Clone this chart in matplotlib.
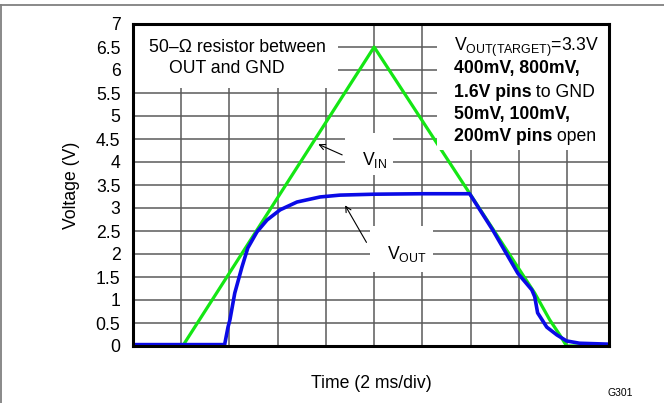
import matplotlib
matplotlib.use("Agg")
import matplotlib.pyplot as plt
from matplotlib.patches import Rectangle
from matplotlib.lines import Line2D
from matplotlib.transforms import offset_copy

plt.rcParams['font.family'] = ['Liberation Sans', 'DejaVu Sans']
plt.rcParams['mathtext.fontset'] = 'custom'
plt.rcParams['mathtext.rm'] = 'Liberation Sans'
plt.rcParams['mathtext.bf'] = 'Liberation Sans:bold'
plt.rcParams['mathtext.it'] = 'Liberation Sans:italic'

# ---- data (time in divisions of 2 ms, voltage in V) ----
vin_t = [0.0, 1.03, 5.0, 8.33, 8.64, 8.85, 8.99, 9.87]
vin_v = [0.0, 0.0, 6.5, 1.15, 0.57, 0.24, 0.0, 0.0]

vout_t = [0.0, 0.5, 1.0, 1.5, 1.90, 1.97, 2.01, 2.11, 2.26, 2.38, 2.57, 2.78, 3.05,
          3.40, 3.88, 4.29, 5.0, 6.0, 6.98, 7.46, 7.98, 8.27, 8.33, 8.39, 8.58,
          8.79, 8.99, 9.26, 9.87]
vout_v = [0.03, 0.03, 0.03, 0.03, 0.03, 0.41, 0.57, 1.15, 1.72, 2.13, 2.48, 2.74, 2.96,
          3.13, 3.24, 3.28, 3.30, 3.31, 3.31, 2.52, 1.58, 1.22, 1.07, 0.72, 0.41,
          0.24, 0.11, 0.06, 0.04]

yticks = [0, 0.5, 1, 1.5, 2, 2.5, 3, 3.5, 4, 4.5, 5, 5.5, 6, 6.5, 7]
ytick_labels = ['0', '0.5', '1', '1.5', '2', '2.5', '3', '3.5', '4', '4.5',
                '5', '5.5', '6', '6.5', '7']
xgrid = [1, 2, 3, 4, 5, 6, 7, 8, 9]

FS = 12.7
fig = plt.figure(figsize=(6.64, 4.03), dpi=100)
ax = fig.add_axes([133/664, 1-346/403, (609-133)/664, (346-24)/403])
ax.set_xlim(0, 9.87)
ax.set_ylim(0, 7)

ax.set_yticks(yticks)
ax.set_yticklabels(ytick_labels, fontsize=FS)
ax.set_xticks(xgrid)
ax.set_xticklabels([])
ax.tick_params(length=0, pad=9)
ax.grid(True, color='#5a5a5a', linewidth=1.1, zorder=0.5)
ax.set_axisbelow(True)
for s in ax.spines.values():
    s.set_linewidth(2.2)
    s.set_color('black')
    s.set_zorder(6)

ax.set_ylabel('Voltage (V)', fontsize=FS, labelpad=11)
fig.text(371/664, 1-383/403, 'Time (2 ms/div)', fontsize=FS, ha='center', va='center')
fig.text(620/664, 1-393/403, 'G301', fontsize=7.5, ha='center', va='center')

# curves
ax.plot(vin_t, vin_v, color='#14e614', linewidth=2.3, zorder=3, solid_joinstyle='round')
ax.plot(vout_t, vout_v, color='#0a0ae6', linewidth=2.6, zorder=3.5, solid_joinstyle='round')

# white label backgrounds
ax.add_patch(Rectangle((0, 5.6), 4.25, 1.4, facecolor='white', edgecolor='none', zorder=2))
ax.add_patch(Rectangle((6.30, 4.26), 3.57, 2.74, facecolor='white', edgecolor='none', zorder=4))
ax.add_patch(Rectangle((4.39, 3.72), 1.0, 0.91, facecolor='white', edgecolor='none', zorder=2))
ax.add_patch(Rectangle((4.91, 1.6), 1.31, 1.0, facecolor='white', edgecolor='none', zorder=2))

# texts
ax.text(0.33, 6.39, '50\u2013\u03a9 resistor between', fontsize=FS, va='baseline', zorder=7)
ax.text(0.75, 5.93, 'OUT and GND', fontsize=FS, va='baseline', zorder=7)

ax.text(6.65, 6.41, r'V$_{\mathregular{OUT(TARGET)}}$=3.3V', fontsize=FS, va='baseline', zorder=7)
ax.text(6.65, 5.93, '400mV, 800mV,', fontsize=FS, fontweight='bold', va='baseline', zorder=7)
ax.text(6.65, 4.93, '50mV, 100mV,', fontsize=FS, fontweight='bold', va='baseline', zorder=7)

mixed = [(5.41, '1.6V pins', ' to GND'), (4.46, '200mV pins', ' open')]
fig.canvas.draw()
renderer = fig.canvas.get_renderer()
for yv, btxt, rtxt in mixed:
    tb = ax.text(6.65, yv, btxt, fontsize=FS, fontweight='bold', va='baseline', zorder=7)
    w = tb.get_window_extent(renderer=renderer).width
    tr = offset_copy(ax.transData, fig=fig, x=w, y=0, units='dots')
    ax.text(6.65, yv, rtxt, fontsize=FS, va='baseline', zorder=7, transform=tr)

ax.text(4.75, 3.93, r'V$_{\mathregular{IN}}$', fontsize=FS, va='baseline', zorder=7)
ax.text(5.26, 1.89, r'V$_{\mathregular{OUT}}$', fontsize=FS, va='baseline', zorder=7)

ax.annotate('', xy=(3.79, 4.41), xytext=(4.39, 4.13),
            arrowprops=dict(arrowstyle='->', color='black', lw=0.8), zorder=7)
ax.annotate('', xy=(4.37, 3.11), xytext=(4.87, 2.20),
            arrowprops=dict(arrowstyle='->', color='black', lw=0.8), zorder=7)

# figure frame lines (top and left)
fig.add_artist(Line2D([0, 1], [1-5/403, 1-5/403], transform=fig.transFigure,
                      color='#808080', linewidth=1.3))
fig.add_artist(Line2D([0.5/664, 0.5/664], [0, 1-5/403], transform=fig.transFigure,
                      color='#808080', linewidth=1.3))

fig.savefig('out.png', dpi=100)
